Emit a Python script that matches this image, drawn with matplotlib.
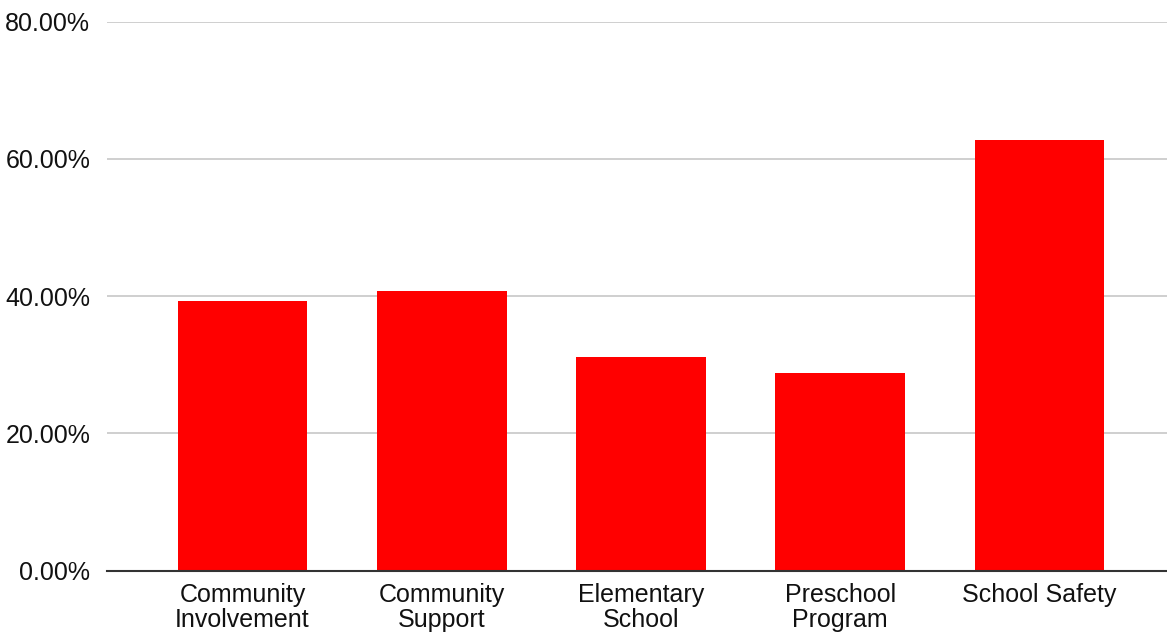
import matplotlib.pyplot as plt
from matplotlib.ticker import FuncFormatter
import numpy as np

categories = ['Community\nInvolvement', 'Community\nSupport', 'Elementary\nSchool',
              'Preschool\nProgram', 'School Safety']
values = [39.3, 40.8, 31.2, 28.8, 62.8]
yticks = [0, 20, 40, 60, 80]

plt.rcParams['font.family'] = ['Liberation Sans', 'DejaVu Sans']

fig = plt.figure(figsize=(11.67, 6.33), dpi=100)
ax = fig.add_axes([0.0917, 0.0984, 0.9083, 0.8673])

x = np.arange(len(categories))
ax.bar(x, values, width=0.65, color='#ff0000', zorder=3)

ax.set_ylim(0, 80)
ax.set_xlim(-0.68, 4.64)
ax.set_yticks(yticks)
ax.yaxis.set_major_formatter(FuncFormatter(lambda v, p: f'{v:.2f}%'))
ax.set_xticks(x)
ax.set_xticklabels(categories, linespacing=1.05)

ax.grid(axis='y', color='#cccccc', linewidth=1.3, zorder=0)
for s in ['top', 'right', 'left']:
    ax.spines[s].set_visible(False)
ax.spines['bottom'].set_color('#333333')
ax.spines['bottom'].set_linewidth(1.5)
ax.spines['bottom'].set_zorder(4)

ax.tick_params(axis='y', length=0, pad=12, labelsize=18, labelcolor='#111111')
ax.tick_params(axis='x', length=0, pad=9, labelsize=18, labelcolor='#111111')

fig.savefig('out.png', dpi=100)
